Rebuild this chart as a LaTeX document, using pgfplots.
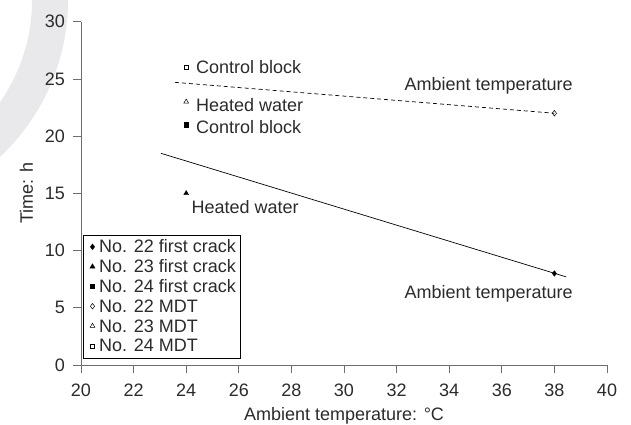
\documentclass[border=0pt]{standalone}
\usepackage{fontspec}
\setmainfont{Liberation Sans}
\usepackage{pgfplots}
\pgfplotsset{compat=1.18}
\definecolor{txt}{HTML}{2B2B2B}
\definecolor{axc}{HTML}{6E6E6E}
\definecolor{wm}{HTML}{E9E9EB}
\newcommand{\chartfont}{\fontsize{18bp}{21bp}\selectfont}
\begin{document}
\begin{tikzpicture}
\useasboundingbox (-81bp,-60bp) rectangle (550bp,365bp);
\begin{scope}
\clip (-81bp,-60bp) rectangle (550bp,365bp);
\fill[wm, even odd rule] (-228bp,365bp) circle (215bp) (-228bp,365bp) circle (179bp);
\end{scope}
\begin{axis}[
  at={(0,0)}, anchor=south west,
  width=526bp, height=343.3bp, scale only axis,
  xmin=20, xmax=40, ymin=0, ymax=30,
  xtick={20,22,...,40}, ytick={0,5,...,30},
  axis x line*=bottom, axis y line*=left,
  axis line style={axc, line width=0.8pt, -},
  tick style={axc, line width=0.8pt},
  tick align=outside, major tick length=8bp,
  clip=false,
  /pgf/number format/assume math mode=true,
  ticklabel style={text=txt, font=\chartfont},
  xticklabel style={inner sep=0pt, anchor=north, yshift=-10.3bp},
  yticklabel style={inner sep=0pt, anchor=east, xshift=-8bp},
  xlabel={Ambient temperature: °C},
  xlabel style={at={(axis description cs:0.5,-0.1631)}, anchor=base, inner sep=0pt, text=txt, font=\chartfont},
  ylabel={Time: h},
  ylabel style={at={(axis description cs:-0.1036,0.5)}, anchor=center, inner sep=0pt, text=txt, font=\chartfont},
  legend style={at={(axis description cs:0,0)}, anchor=south west, xshift=2.5bp, yshift=7bp,
    draw=black, line width=0.5pt, fill=white, inner xsep=3bp, inner ysep=2bp,
    font=\chartfont, text=txt, row sep=0pt,
    nodes={inner xsep=1bp, inner ysep=0pt, text height=16bp, text depth=3.8bp}},
  legend cell align=left,
  legend image code/.code={\path (0bp,0bp) (11bp,0bp); \draw[only marks,#1] plot coordinates {(5.5bp,0bp)};},
]
\addplot[black, line width=0.7pt, forget plot] coordinates {(23.04,18.5) (38.45,7.7)};
\addplot[black, line width=0.7pt, dash pattern=on 4bp off 3bp, forget plot] coordinates {(23.57,24.7) (38,22)};

\addplot[only marks, black, mark=diamond*, mark size=2.8bp] coordinates {(38,8)};
\addlegendentry{No. 22 first crack}
\addplot[only marks, black, mark=triangle*, mark size=2.8bp] coordinates {(24,15)};
\addlegendentry{No. 23 first crack}
\addplot[only marks, black, mark=square*, mark size=2.1bp] coordinates {(24,21)};
\addlegendentry{No. 24 first crack}
\addplot[only marks, black, mark=diamond, mark size=2.8bp, mark options={fill=white, line width=0.5pt}] coordinates {(38,22)};
\addlegendentry{No. 22 MDT}
\addplot[only marks, black, mark=triangle, mark size=2.8bp, mark options={fill=white, line width=0.5pt}] coordinates {(24,23)};
\addlegendentry{No. 23 MDT}
\addplot[only marks, black, mark=square, mark size=2.1bp, mark options={fill=white, line width=0.5pt}] coordinates {(24,26)};
\addlegendentry{No. 24 MDT}

\node[anchor=west, inner sep=0pt, text=txt, font=\chartfont] at (axis cs:24.37,26) {Control block};
\node[anchor=west, inner sep=0pt, text=txt, font=\chartfont] at (axis cs:24.37,22.75) {Heated water};
\node[anchor=west, inner sep=0pt, text=txt, font=\chartfont] at (axis cs:24.37,20.8) {Control block};
\node[anchor=west, inner sep=0pt, text=txt, font=\chartfont] at (axis cs:24.2,13.8) {Heated water};
\node[anchor=center, inner sep=0pt, text=txt, font=\chartfont] at (axis cs:35.5,24.4) {Ambient temperature};
\node[anchor=center, inner sep=0pt, text=txt, font=\chartfont] at (axis cs:35.5,6.2) {Ambient temperature};
\end{axis}
\end{tikzpicture}
\end{document}
